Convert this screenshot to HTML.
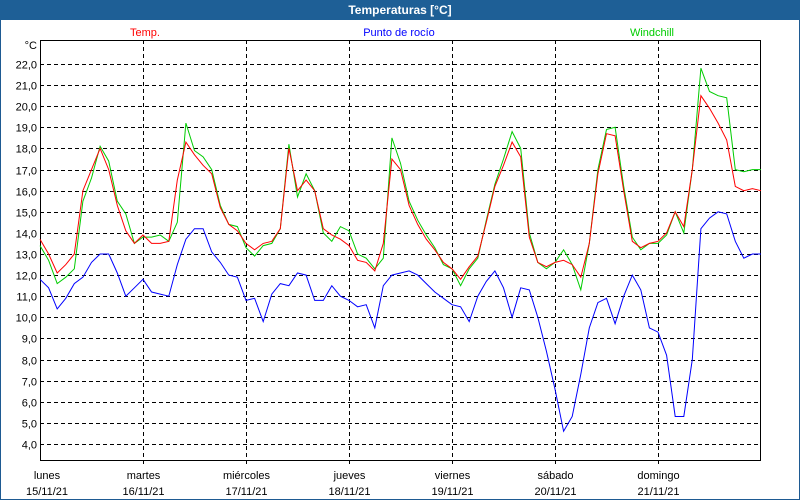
<!DOCTYPE html>
<html><head><meta charset="utf-8"><style>
body{margin:0;width:800px;height:500px;background:#fff;font-family:"Liberation Sans",sans-serif;overflow:hidden}
#frame{position:absolute;left:0;top:0;width:798px;height:498px;border:1px solid #1e5a92}
#title{position:absolute;left:0;top:0;width:800px;height:20px;background:#1e5f96;color:#fff;font-weight:bold;font-size:12px;text-align:center;line-height:20px}
</style></head><body>
<div id="frame"></div>
<div id="title">Temperaturas [°C]</div>
<svg id="chart" width="800" height="500" style="position:absolute;left:0;top:0"></svg>
<script>
const days=["lunes","martes","miércoles","jueves","viernes","sábado","domingo"];
const dates=["15/11/21","16/11/21","17/11/21","18/11/21","19/11/21","20/11/21","21/11/21"];
const yTicks=[4,5,6,7,8,9,10,11,12,13,14,15,16,17,18,19,20,21,22];
const temp=[13.7,13.0,12.1,12.5,13.0,16.0,17.0,18.0,17.0,15.3,14.1,13.5,13.9,
13.5,13.5,13.6,16.5,18.3,17.7,17.2,16.8,15.2,14.4,14.1,13.5,
13.2,13.5,13.6,14.2,18.0,16.0,16.5,16.0,14.2,13.9,13.7,13.4,
12.7,12.6,12.2,13.5,17.5,17.0,15.3,14.4,13.7,13.2,12.6,12.3,
11.8,12.4,12.9,14.5,16.2,17.2,18.3,17.6,13.8,12.6,12.4,12.6,
12.7,12.5,11.9,13.5,16.8,18.7,18.6,16.0,13.6,13.3,13.5,13.6,
14.0,15.0,14.3,17.0,20.5,19.9,19.2,18.4,16.2,16.0,16.1,16.0];
const windchill=[13.4,12.7,11.6,11.9,12.3,15.5,16.6,18.1,17.4,15.5,14.9,13.5,13.8,
13.8,13.9,13.6,14.5,19.2,17.9,17.6,17.0,15.3,14.4,14.3,13.3,
12.9,13.4,13.5,14.2,18.2,15.7,16.8,16.0,14.0,13.6,14.3,14.1,
13.0,12.8,12.3,12.8,18.5,17.3,15.5,14.6,13.9,13.3,12.5,12.3,
11.5,12.3,12.8,14.6,16.3,17.5,18.8,18.0,14.0,12.6,12.3,12.6,
13.2,12.5,11.3,13.5,17.0,18.9,19.0,16.2,13.8,13.2,13.5,13.5,
13.9,15.0,14.0,17.0,21.8,20.7,20.5,20.4,17.0,16.9,17.0,17.0];
const dewpoint=[11.8,11.4,10.4,10.9,11.6,11.9,12.6,13.0,13.0,12.1,11.0,11.4,11.8,
11.2,11.1,11.0,12.5,13.7,14.2,14.2,13.1,12.6,12.0,11.9,10.8,
10.9,9.8,11.1,11.6,11.5,12.1,12.0,10.8,10.8,11.5,11.0,10.8,
10.5,10.6,9.5,11.5,12.0,12.1,12.2,12.0,11.6,11.2,10.9,10.6,
10.5,9.8,11.0,11.7,12.2,11.4,10.0,11.4,11.3,10.0,8.4,6.6,
4.6,5.3,7.3,9.5,10.7,10.9,9.7,11.0,12.0,11.3,9.5,9.3,
8.2,5.3,5.3,8.0,14.2,14.7,15.0,14.9,13.6,12.8,13.0,13.0];
const L=40,R=760,T=40,B=460,dayW=103,perDay=12;
const xS=i=>L+i*dayW/perDay;
const xDay=d=>L+d*dayW;
const yS=v=>254-(v-13)*21.11;
const svg=document.getElementById('chart');
const NS='http://www.w3.org/2000/svg';
function mk(t,a){const e=document.createElementNS(NS,t);for(const k in a)e.setAttribute(k,a[k]);svg.appendChild(e);return e;}
[["Temp.",145,"#ff0000","legend-temp"],["Punto de rocío",399,"#0000ff","legend-dewpoint"],["Windchill",652,"#00cc00","legend-windchill"]].forEach(l=>{
 const t=mk('text',{x:l[1],y:36,'text-anchor':'middle','font-size':11,fill:l[2],'font-family':'Liberation Sans, sans-serif'});t.textContent=l[0];
 
 
});
yTicks.forEach(v=>{
 const y=Math.round(yS(v))+0.5;
 const g=mk('line',{x1:L,x2:R,y1:y,y2:y,stroke:'#000','stroke-dasharray':'4,3','stroke-width':1});
 
 
 const t=mk('text',{x:37,y:y+4,'text-anchor':'end','font-size':11,fill:'#000','font-family':'Liberation Sans, sans-serif'});
 t.textContent=v.toFixed(1).replace('.',',');
 
 
});
const u=mk('text',{x:37,y:49,'text-anchor':'end','font-size':11,fill:'#000','font-family':'Liberation Sans, sans-serif'});u.textContent='°C';


days.forEach((d,i)=>{
 const x=Math.round(xDay(i))+0.5;
 if(i>0){const g=mk('line',{x1:x,x2:x,y1:T,y2:B+4,stroke:'#000','stroke-dasharray':'4,3'});
 
 }
 const cx=i===0?47:x;
 const t1=mk('text',{x:cx,y:479,'text-anchor':'middle','font-size':11,fill:'#000','font-family':'Liberation Sans, sans-serif'});t1.textContent=d;
 
 
 const t2=mk('text',{x:cx,y:495,'text-anchor':'middle','font-size':11,fill:'#000','font-family':'Liberation Sans, sans-serif'});t2.textContent=dates[i];
 
 
});
const bx=mk('rect',{x:L+0.5,y:T+0.5,width:R-L,height:B-T,fill:'none',stroke:'#000'});


function line(arr,c,name){
 const p=mk('polyline',{points:arr.map((v,i)=>xS(i).toFixed(1)+','+yS(v).toFixed(1)).join(' '),fill:'none',stroke:c,'stroke-width':1});
 
 
}
line(dewpoint,'#0000ff','dewpoint-line');
line(windchill,'#00cc00','windchill-line');
line(temp,'#ff0000','temp-line');
</script>
</body></html>
